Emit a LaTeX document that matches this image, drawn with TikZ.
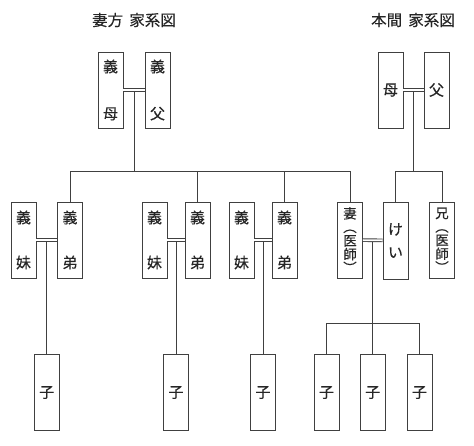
\documentclass[tikz,border=0pt]{standalone}
\usepackage{fontspec}
\newfontfamily\jp{Noto Sans CJK JP}[FakeBold=0.35]
\usetikzlibrary{calc}
\definecolor{strich}{HTML}{404040}
\tikzset{
  person/.style={draw=strich, line width=0.9pt, minimum width=25pt, minimum height=76pt,
    inner sep=0pt, align=center, font=\jp\fontsize{15}{17}\selectfont, text=black!85},
  beruf/.style={font=\jp\fontsize{13.5}{13.6}\selectfont},
  ehe/.style={draw=strich, line width=0.9pt, double distance=1.8pt},
  linie/.style={draw=strich, line width=0.9pt},
  titel/.style={font=\jp\fontsize{15.5}{17}\selectfont, text=black!85}
}
\begin{document}
\begin{tikzpicture}[x=1pt, y=-1pt]
    \useasboundingbox (0,0) rectangle (474,445);

    % Überschriften
    \node[titel] (t1) at (134,20) {妻方\hspace{0.4em}家系図};
    \node[titel] (t2) at (413,20) {本間\hspace{0.4em}家系図};

    % Eltern
    \node[person] (gm) at (110.5,90) {義\\[30pt]母};
    \node[person] (gf) at (157.5,90) {義\\[30pt]父};
    \node[person] (hm) at (390.5,90) {母};
    \node[person] (hf) at (436.5,90) {父};

    % Geschwister
    \node[person] (s1) at (23.5,240) {義\\[28pt]妹};
    \node[person] (b1) at (70,240) {義\\[28pt]弟};
    \node[person] (s2) at (154.5,240) {義\\[28pt]妹};
    \node[person] (b2) at (197.5,240) {義\\[28pt]弟};
    \node[person] (s3) at (241.5,240) {義\\[28pt]妹};
    \node[person] (b3) at (284.5,240) {義\\[28pt]弟};
    \node[person, beruf] (tsuma) at (350,240) {妻\\︵\\医\\師\\︶};
    \node[person, minimum height=77pt] (kei) at (395.5,240.5) {け\\[6pt]い};
    \node[person, beruf] (ani) at (442,240) {兄\\︵\\医\\師\\︶};

    % Kinder
    \node[person] (c1) at (46.75,392.5) {子};
    \node[person] (c2) at (176,392.5) {子};
    \node[person] (c3) at (263,392.5) {子};
    \node[person] (c4) at (326.5,392.5) {子};
    \node[person] (c5) at (372.75,392.5) {子};
    \node[person] (c6) at (419.5,392.5) {子};

    % Mitte der Ehelinien
    \coordinate (gp) at ($(gm.east)!0.5!(gf.west)$);
    \coordinate (hp) at ($(hm.east)!0.5!(hf.west)$);
    \coordinate (p1) at ($(s1.east)!0.5!(b1.west)$);
    \coordinate (p2) at ($(s2.east)!0.5!(b2.west)$);
    \coordinate (p3) at ($(s3.east)!0.5!(b3.west)$);
    \coordinate (kp) at ($(tsuma.east)!0.5!(kei.west)$);
    \coordinate (bus) at (0,171);
    \coordinate (kbus) at (0,323);

    % Abstammung
    \draw[linie] (gp) -- (gp |- bus);
    \draw[linie] (b1.north) |- (bus -| tsuma.north) -- (tsuma.north);
    \foreach \n in {b2,b3} {
        \draw[linie] (\n.north) -- (\n.north |- bus);
    }
    \draw[linie] (hp) -- (hp |- bus);
    \draw[linie] (kei.north) |- (bus -| ani.north) -- (ani.north);
    \draw[linie] (p1) -- (p1 |- c1.north);
    \draw[linie] (p2) -- (p2 |- c2.north);
    \draw[linie] (p3) -- (p3 |- c3.north);
    \draw[linie] (kp) -- (kp |- c5.north);
    \draw[linie] (c4.north) |- (kbus -| c6.north) -- (c6.north);

    % Ehen
    \draw[ehe] (gm) -- (gf);
    \draw[ehe] (hm) -- (hf);
    \draw[ehe] (s1) -- (b1);
    \draw[ehe] (s2) -- (b2);
    \draw[ehe] (s3) -- (b3);
    \draw[ehe] (tsuma) -- (kei);
\end{tikzpicture}
\end{document}
